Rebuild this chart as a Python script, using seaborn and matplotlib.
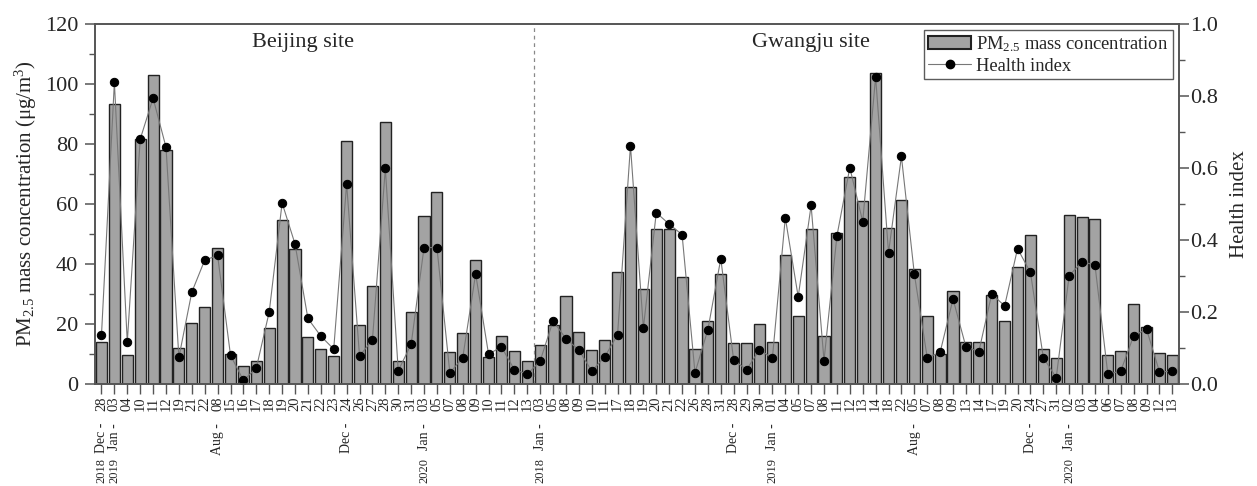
import numpy as np
import pandas as pd
import matplotlib
matplotlib.use("Agg")
import matplotlib.pyplot as plt
import seaborn as sns
from matplotlib.lines import Line2D
from matplotlib.patches import Patch
from matplotlib.ticker import MultipleLocator, FormatStrFormatter

# ---- data -------------------------------------------------------------
beijing_days = ["28", "03", "04", "10", "11", "12", "19", "21", "22", "08",
                "15", "16", "17", "18", "19", "20", "21", "22", "23", "24",
                "26", "27", "28", "30", "31", "03", "05", "07", "08", "09",
                "10", "11", "12", "13"]
gwangju_days = ["03", "05", "08", "09", "10", "11", "17", "18", "19", "20",
                "21", "22", "26", "28", "31", "28", "29", "30", "01", "04",
                "05", "07", "08", "11", "12", "13", "14", "18", "22", "05",
                "07", "08", "09", "13", "14", "17", "19", "20", "24", "27",
                "31", "02", "03", "04", "06", "07", "08", "09", "12", "13"]

# month / year markers: (sample index, text)
month_marks = [(0, "Dec -"), (1, "Jan -"), (9, "Aug -"), (19, "Dec -"), (25, "Jan -"),
               (34, "Jan -"), (49, "Dec -"), (52, "Jan -"), (63, "Aug -"),
               (72, "Dec -"), (75, "Jan -")]
year_marks = [(0, "2018"), (1, "2019"), (25, "2020"),
              (34, "2018"), (52, "2019"), (75, "2020")]

beijing_pm = [13.9, 93.4, 9.6, 81.7, 103.0, 78.0, 11.9, 20.3, 25.8, 45.2,
              9.9, 6.0, 7.6, 18.6, 54.5, 45.0, 15.7, 11.5, 9.2, 81.0,
              19.6, 32.5, 87.2, 7.8, 24.0, 56.0, 64.0, 10.6, 16.9, 41.2,
              9.0, 16.0, 10.9, 7.5]
gwangju_pm = [13.0, 19.6, 29.4, 17.2, 11.3, 14.7, 37.3, 65.5, 31.5, 51.6,
              51.6, 35.8, 11.6, 21.0, 36.7, 13.7, 13.5, 19.9, 14.1, 42.9,
              22.5, 51.6, 16.1, 50.4, 69.1, 61.0, 103.7, 52.0, 61.4, 38.4,
              22.6, 10.0, 31.0, 14.0, 14.1, 29.6, 21.0, 38.9, 49.8, 11.6,
              8.5, 56.3, 55.6, 55.0, 9.5, 11.1, 26.6, 19.1, 10.2, 9.5]

beijing_hi = [0.136, 0.838, 0.116, 0.680, 0.794, 0.658, 0.074, 0.255, 0.344, 0.357,
              0.080, 0.010, 0.044, 0.200, 0.503, 0.389, 0.182, 0.133, 0.097, 0.556,
              0.078, 0.122, 0.599, 0.037, 0.110, 0.379, 0.379, 0.031, 0.073, 0.306,
              0.083, 0.103, 0.040, 0.027]
gwangju_hi = [0.064, 0.175, 0.126, 0.094, 0.036, 0.075, 0.137, 0.662, 0.155, 0.476,
              0.444, 0.415, 0.031, 0.151, 0.348, 0.066, 0.040, 0.095, 0.072, 0.462,
              0.242, 0.496, 0.065, 0.411, 0.601, 0.451, 0.853, 0.365, 0.632, 0.306,
              0.073, 0.088, 0.236, 0.103, 0.090, 0.250, 0.217, 0.376, 0.310, 0.073,
              0.018, 0.301, 0.339, 0.331, 0.027, 0.036, 0.134, 0.152, 0.034, 0.035]

days = beijing_days + gwangju_days
df = pd.DataFrame({
    "idx": np.arange(len(days)),
    "pm": beijing_pm + gwangju_pm,
    "hi": beijing_hi + gwangju_hi,
})
n_beijing = len(beijing_days)

# ---- style ------------------------------------------------------------
sns.set_theme(style="ticks")
plt.rcParams["font.family"] = ["Liberation Serif", "DejaVu Serif"]
plt.rcParams["mathtext.fontset"] = "custom"
plt.rcParams["mathtext.rm"] = "Liberation Serif"
plt.rcParams["mathtext.it"] = "Liberation Serif:italic"
spine_c = "#555555"
bar_c = "#a3a3a3"

fig = plt.figure(figsize=(12.57, 4.86), dpi=100)
ax = fig.add_axes([0.0756, 0.2099, 0.8622, 0.7407])

sns.barplot(data=df, x="idx", y="pm", color=bar_c, saturation=1,
            edgecolor="#222222", linewidth=1.0, width=0.86, ax=ax)
ax.set_xlim(-0.5, len(days) - 0.5)
ax.set_ylim(0, 120)

ax2 = ax.twinx()
sns.lineplot(data=df, x="idx", y="hi", color="#777777", linewidth=0.8,
             marker="o", markersize=6, markerfacecolor="black",
             markeredgecolor="black", ax=ax2)
ax2.set_ylim(0, 1.0)
ax2.set_xlim(-0.5, len(days) - 0.5)

# site separator
ax.axvline(n_beijing - 0.5, color="#888888", linewidth=0.9, linestyle=(0, (3, 3)))

# axes styling
for a in (ax, ax2):
    for s in a.spines.values():
        s.set_color(spine_c)
        s.set_linewidth(1.2)
        s.set_visible(True)

ax.yaxis.set_major_locator(MultipleLocator(20))
ax.yaxis.set_minor_locator(MultipleLocator(10))
ax.tick_params(axis="y", which="major", direction="out", length=7, width=1.1,
               color=spine_c, labelsize=16, pad=5)
ax.tick_params(axis="y", which="minor", direction="out", length=4, width=1.0, color=spine_c)

ax2.yaxis.set_major_locator(MultipleLocator(0.2))
ax2.yaxis.set_minor_locator(MultipleLocator(0.1))
ax2.yaxis.set_major_formatter(FormatStrFormatter("%.1f"))
ax2.tick_params(axis="y", which="major", direction="out", length=7, width=1.1,
                color=spine_c, labelsize=16, pad=1)
ax2.tick_params(axis="y", which="minor", direction="out", length=4, width=1.0, color=spine_c)

ax.set_xticks(df["idx"])
ax.set_xticklabels(days, rotation=90, fontsize=10.5)
ax.tick_params(axis="x", direction="out", length=7, width=1.0, color=spine_c, pad=2)
ax2.tick_params(axis="x", which="both", bottom=False, top=False, labelbottom=False)

for i, txt in month_marks:
    ax.annotate(txt, xy=(i, 0), xycoords=("data", "axes fraction"),
                xytext=(0, -28), textcoords="offset points",
                rotation=90, ha="center", va="top", fontsize=10)
for i, txt in year_marks:
    ax.annotate(txt, xy=(i, 0), xycoords=("data", "axes fraction"),
                xytext=(0, -53), textcoords="offset points",
                rotation=90, ha="center", va="top", fontsize=9)

ax.set_xlabel("")
ax.set_ylabel(r"PM$_{\rm 2.5}$ mass concentration (μg/m$^{\rm 3}$)", fontsize=15, labelpad=4)
ax2.set_xlabel("")
ax2.set_ylabel("Health index", fontsize=15, labelpad=9)

# site titles
ax.text(15.6, 0.95, "Beijing site", transform=ax.get_xaxis_transform(),
        ha="center", va="center", fontsize=16)
ax.text(55.0, 0.95, "Gwangju site", transform=ax.get_xaxis_transform(),
        ha="center", va="center", fontsize=16)

handles = [
    Patch(facecolor=bar_c, edgecolor="#222222", linewidth=1.5),
    Line2D([0], [0], color="#777777", linewidth=0.8, marker="o",
           markersize=6, markerfacecolor="black", markeredgecolor="black"),
]
leg = ax2.legend(handles, [r"PM$_{\rm 2.5}$ mass concentration", "Health index"],
                 loc="upper right", fontsize=13.3, frameon=True, fancybox=False,
                 borderaxespad=0.3, handlelength=2.3, handletextpad=0.3,
                 borderpad=0.25, labelspacing=0.2)
leg.get_frame().set_edgecolor("#333333")
leg.get_frame().set_linewidth(1.0)

fig.savefig("out.png", dpi=100)
